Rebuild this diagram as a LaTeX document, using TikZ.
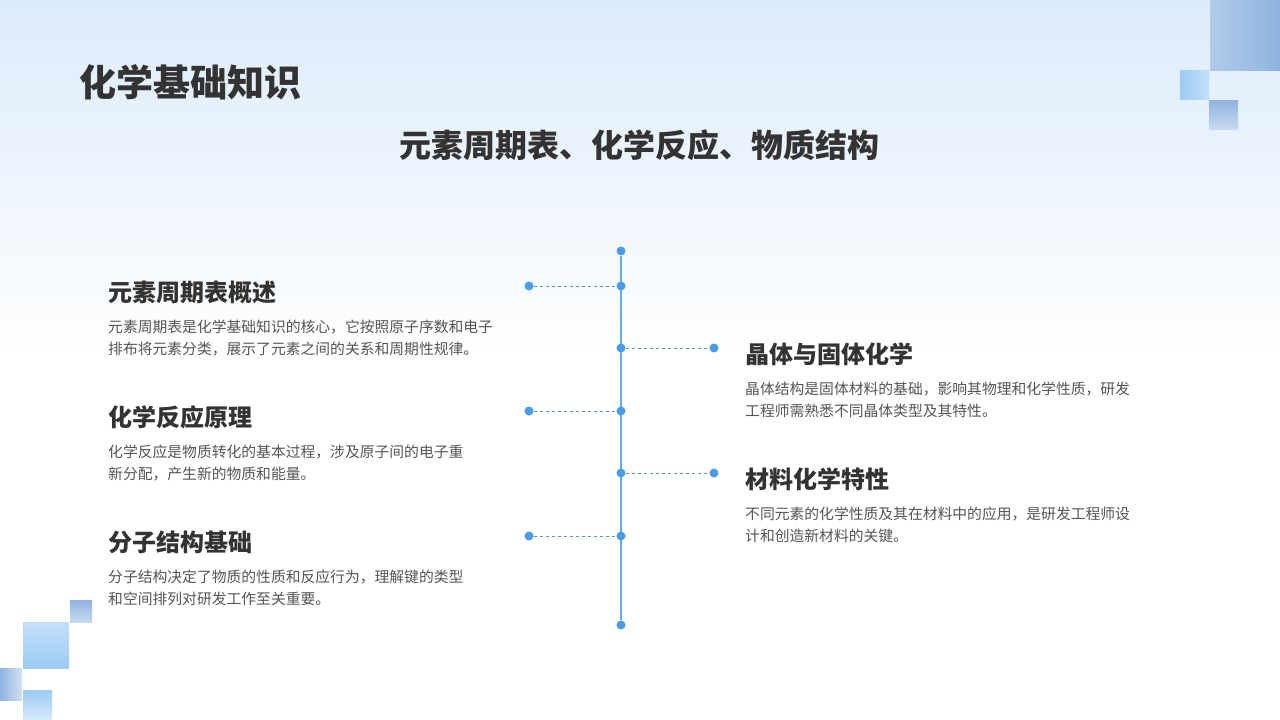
\documentclass[tikz,border=0pt]{standalone}
\usepackage{fontspec}
\setmainfont{Noto Sans CJK SC}
\usetikzlibrary{positioning}
\definecolor{lineblue}{HTML}{4A9BE8}
\definecolor{bgblue}{HTML}{DCEBFB}
\definecolor{txt}{HTML}{333333}
\definecolor{body}{HTML}{555555}
\definecolor{sqA}{HTML}{8FB3E0}
\definecolor{sqB}{HTML}{9CCBF5}
\begin{document}
\begin{tikzpicture}[x=1pt,y=-1pt,
  dot/.style={circle,fill=lineblue,inner sep=0pt,minimum size=9pt},
  head/.style={anchor=west,font=\bfseries\fontsize{24}{28}\selectfont,text=txt,inner sep=0pt},
  bodytxt/.style={anchor=north west,font=\fontsize{14.8}{22}\selectfont,text=body,inner sep=0pt,align=left,text width=440pt},
  conn/.style={lineblue!80!gray,dashed,line width=0.7pt}]
\useasboundingbox (0,0) rectangle (1280,720);
\shade[top color=bgblue,bottom color=white] (0,0) rectangle (1280,360);
\fill[white] (0,360) rectangle (1280,720);
% corner squares
\shade[left color=sqA!70,right color=sqA] (1210,0) rectangle (1280,70);
\shade[left color=sqB,right color=sqB!60] (1180,70) rectangle (1209,99);
\shade[top color=sqA,bottom color=sqA!50] (1209,100) rectangle (1238,129);
\shade[top color=sqA,bottom color=sqA!50] (70,600) rectangle (92,622);
\shade[top color=sqB!60,bottom color=sqB] (23,622) rectangle (69,668);
\shade[left color=sqA,right color=sqA!40] (0,668) rectangle (22,700);
\shade[top color=sqB,bottom color=sqB!40] (23,690) rectangle (52,720);
% titles
\node[anchor=west,font=\bfseries\fontsize{37}{40}\selectfont,text=txt,inner sep=0pt] (t) at (79,82) {化学基础知识};
\node[font=\bfseries\fontsize{32}{36}\selectfont,text=txt,inner sep=0pt] (st) at (639,145) {元素周期表、化学反应、物质结构};
% timeline
\node[dot] (top) at (621,251) {};
\node[dot] (bot) at (621,625) {};
\draw[lineblue!85,line width=1.2pt] (top) -- (bot);
\foreach \n/\y in {a/286,c/411,e/536}{
  \node[dot] (m\n) at (621,\y) {};
  \node[dot] (s\n) at (529,\y) {};
  \draw[conn] (s\n) -- (m\n);}
\foreach \n/\y in {b/348,d/473}{
  \node[dot] (m\n) at (621,\y) {};
  \node[dot] (s\n) at (714,\y) {};
  \draw[conn] (m\n) -- (s\n);}
% left texts
\node[head] (h1) at (108,292) {元素周期表概述};
\node[bodytxt] (b1) at (108,320) {元素周期表是化学基础知识的核心，它按照原子序数和电子\\排布将元素分类，展示了元素之间的关系和周期性规律。};
\node[head] (h2) at (108,417) {化学反应原理};
\node[bodytxt] (b2) at (108,445) {化学反应是物质转化的基本过程，涉及原子间的电子重\\新分配，产生新的物质和能量。};
\node[head] (h3) at (108,542) {分子结构基础};
\node[bodytxt] (b3) at (108,570) {分子结构决定了物质的性质和反应行为，理解键的类型\\和空间排列对研发工作至关重要。};
% right texts
\node[head] (h4) at (745,354) {晶体与固体化学};
\node[bodytxt] (b4) at (745,382) {晶体结构是固体材料的基础，影响其物理和化学性质，研发\\工程师需熟悉不同晶体类型及其特性。};
\node[head] (h5) at (745,479) {材料化学特性};
\node[bodytxt] (b5) at (745,507) {不同元素的化学性质及其在材料中的应用，是研发工程师设\\计和创造新材料的关键。};
\end{tikzpicture}
\end{document}
